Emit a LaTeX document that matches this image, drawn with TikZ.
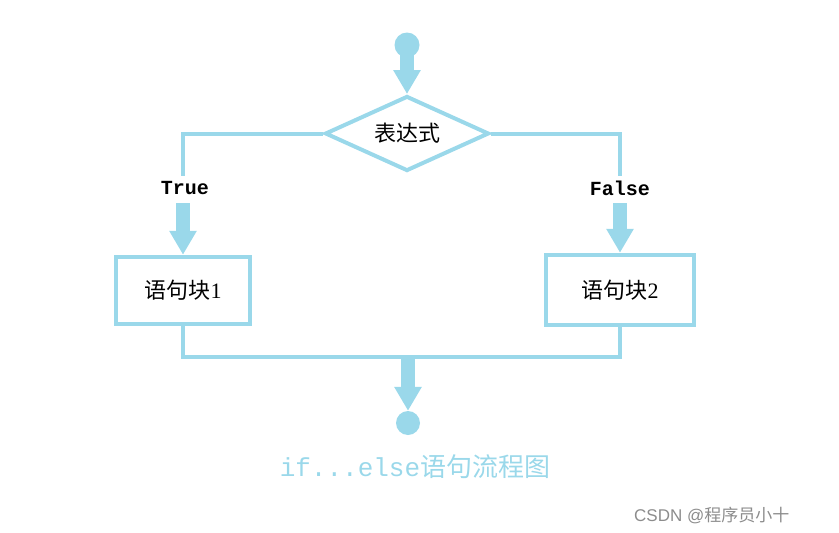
\documentclass[tikz,border=0pt]{standalone}
\usepackage{fontspec}
\setmainfont{Liberation Serif}
\setmonofont{Liberation Mono}
\newfontfamily\cjk{Noto Sans CJK SC}
\newfontfamily\wmfont{Liberation Sans}
\usetikzlibrary{shapes.geometric,arrows.meta}
\definecolor{lb}{RGB}{154,216,234}
\definecolor{wm}{RGB}{140,140,140}
\tikzset{
  flow/.style={draw=lb,line width=4pt},
  bigarrow/.style={draw=lb,line width=14pt,-{Triangle[width=26pt,length=24pt]}},
  dot/.style={circle,fill=lb,minimum size=25pt,inner sep=0pt},
  stepbox/.style={rectangle,draw=lb,line width=4.5pt,inner sep=0pt,font=\fontsize{22pt}{24pt}\selectfont},
  decision/.style={diamond,draw=lb,line width=4pt,inner sep=0pt,aspect=2.17,minimum width=164pt,minimum height=75pt,font=\fontsize{22pt}{24pt}\selectfont},
  branchlabel/.style={inner sep=0pt,minimum height=30pt,font=\ttfamily\bfseries\fontsize{20pt}{22pt}\selectfont},
}
\begin{document}
\begin{tikzpicture}[x=1pt,y=-1pt]
\useasboundingbox (0,0) rectangle (839,533);
\node[dot] (start) at (407,45) {};
\node[decision] (cond) at (407,133.5) {\cjk 表达式};
\coordinate (tl) at (183,176);
\coordinate (fr) at (620,176);
\node[branchlabel] (t) at (185,188) {True};
\node[branchlabel] (f) at (620,188) {False};
\node[stepbox,minimum width=134pt,minimum height=67pt] (b1) at (183,290.5) {{\cjk 语句块}1};
\node[stepbox,minimum width=148pt,minimum height=70pt] (b2) at (620,290) {{\cjk 语句块}2};
\coordinate (m) at (408,357);
\node[dot,minimum size=24pt] (end) at (408,423) {};
\draw[bigarrow] (start.center) -- (cond.north);
\draw[flow] (cond.west) -| (tl);
\draw[flow] (cond.east) -| (fr);
\draw[bigarrow] (183,203) -- (b1.north);
\draw[bigarrow] (620,203) -- (b2.north);
\draw[flow] (b1.south) |- (m) -| (b2.south);
\draw[bigarrow] ([yshift=-2pt]m) -- (end.north);
\node[text=lb,inner sep=0pt] (cap) at (415,467) {\fontsize{26pt}{28pt}\selectfont\ttfamily if...else\cjk 语句流程图};
\node[text=wm,inner sep=0pt,anchor=west] (mark) at (634,515) {\fontsize{17pt}{19pt}\selectfont\wmfont CSDN @\cjk 程序员小十};
\end{tikzpicture}
\end{document}
